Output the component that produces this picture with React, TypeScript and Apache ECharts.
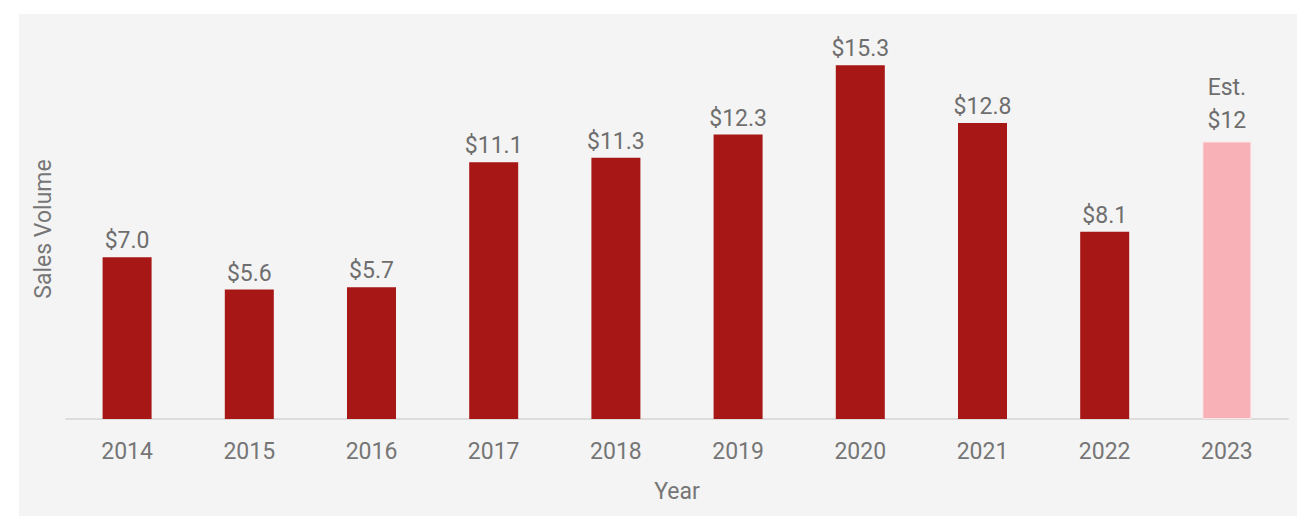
import React, { useEffect, useRef } from "react";
import * as echarts from "echarts";

const years = ["2014", "2015", "2016", "2017", "2018", "2019", "2020", "2021", "2022", "2023"];
const sales = [7.0, 5.6, 5.7, 11.1, 11.3, 12.3, 15.3, 12.8, 8.1, 12];
const labels = ["$7.0", "$5.6", "$5.7", "$11.1", "$11.3", "$12.3", "$15.3", "$12.8", "$8.1", "Est.\n$12"];
const estimateIndex = 9;

export default function App() {
  const ref = useRef<HTMLDivElement>(null);
  useEffect(() => {
    document.body.style.margin = "0";
    const chart = echarts.init(ref.current!, null, { renderer: "svg" });
    chart.setOption({
      animation: false,
      backgroundColor: "#ffffff",
      textStyle: { fontFamily: "Roboto" },
      graphic: [
        {
          type: "rect",
          z: -10,
          silent: true,
          shape: { x: 19, y: 14, width: 1278, height: 502 },
          style: { fill: "#f4f4f4" },
        },
      ],
      grid: { left: 66, right: 9, top: 49, bottom: 97, containLabel: false },
      xAxis: {
        type: "category",
        data: years,
        name: "Year",
        nameLocation: "middle",
        nameGap: 61,
        nameTextStyle: { color: "#767676", fontSize: 23, fontFamily: "Roboto" },
        axisLine: { show: true, lineStyle: { color: "#dcdcdc", width: 2 } },
        axisTick: { show: false },
        axisLabel: { color: "#767676", fontSize: 23, margin: 21, fontFamily: "Roboto" },
      },
      yAxis: {
        type: "value",
        min: 0,
        max: 16,
        name: "Sales Volume",
        nameLocation: "middle",
        nameGap: 11,
        nameRotate: 90,
        nameTextStyle: { color: "#767676", fontSize: 23, fontFamily: "Roboto", padding: [0, 0, 0, 10] },
        axisLine: { show: false },
        axisTick: { show: false },
        axisLabel: { show: false },
        splitLine: { show: false },
      },
      series: [
        {
          type: "bar",
          barWidth: 49,
          data: sales.map((v, i) => ({
            value: v,
            itemStyle: {
              color: i === estimateIndex ? "#f8b2b7" : "#a71715",
              borderColor: i === estimateIndex ? "#fde6e8" : undefined,
              borderWidth: i === estimateIndex ? 1 : 0,
            },
            label: i === estimateIndex ? { formatter: labels[i], lineHeight: 33 } : { formatter: labels[i] },
          })),
          label: {
            show: true,
            position: "top",
            distance: 5,
            color: "#6e6e6e",
            fontSize: 23,
            fontFamily: "Roboto",
          },
        },
      ],
    });
    return () => chart.dispose();
  }, []);
  return <div ref={ref} style={{ width: 1297, height: 516 }} />;
}
